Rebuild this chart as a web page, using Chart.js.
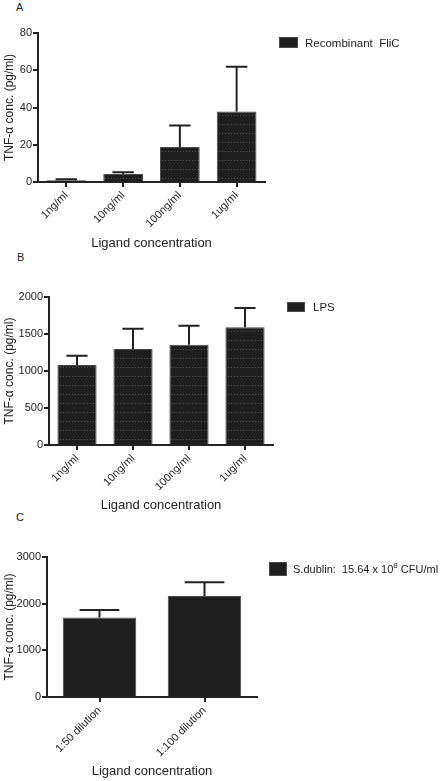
<!DOCTYPE html>
<html>
<head>
<meta charset="utf-8">
<script src="https://cdn.jsdelivr.net/npm/chart.js@4/dist/chart.umd.min.js"></script>
<style>
  body { margin: 0; background: #fff; font-family: "Liberation Sans", Arial, sans-serif; color: #222; }
  #wrap { position: relative; width: 444px; height: 781px; overflow: hidden; }
  canvas { position: absolute; left: 0; }
  .tag { position: absolute; font-size: 11px; line-height: 1; }
  .leg { position: absolute; display: flex; align-items: center; font-size: 11.5px; white-space: pre; }
  .leg i { display: inline-block; background: #1e1e1e; border: 1px solid #4a4a4a; box-sizing: border-box; }
  .leg sup { font-size: 8px; line-height: 0; }
</style>
</head>
<body>
<div id="wrap">
  <div class="tag" style="left:16px;top:2px">A</div>
  <div class="tag" style="left:17px;top:252px">B</div>
  <div class="tag" style="left:16px;top:512px">C</div>

  <canvas id="chartA" width="444" height="252" style="top:0"></canvas>
  <canvas id="chartB" width="444" height="262" style="top:252px"></canvas>
  <canvas id="chartC" width="444" height="267" style="top:514px"></canvas>

  <div class="leg" style="left:279px;top:37px;height:11px"><i style="width:19px;height:11px;margin-right:7px"></i><span>Recombinant  FliC</span></div>
  <div class="leg" style="left:287px;top:302px;height:10px"><i style="width:18px;height:10px;margin-right:8px"></i><span>LPS</span></div>
  <div class="leg" style="left:269px;top:562px;height:14px;font-size:11px"><i style="width:18px;height:14px;margin-right:6px"></i><span>S.dublin:  15.64 x 10<sup>8</sup> CFU/ml</span></div>
</div>

<script>
// panel A - recombinant FliC
const ligandCats = ['1ng/ml', '10ng/ml', '100ng/ml', '1ug/ml'];
const fliC = [1.0, 4.3, 18.8, 37.9];
const fliCErr = [0.5, 0.9, 11.6, 24.0];
const ticksA = [0, 20, 40, 60, 80];

// panel B - LPS
const lps = [1081, 1297, 1355, 1590];
const lpsErr = [126, 275, 257, 261];
const ticksB = [0, 500, 1000, 1500, 2000];

// panel C - S.dublin
const dilutionCats = ['1:50 dilution', '1:100 dilution'];
const sDublin = [1701, 2164];
const sDublinErr = [163, 293];
const ticksC = [0, 1000, 2000, 3000];

const ink = '#222';

// striped fill like the scanned bars
function stripes() {
  const c = document.createElement('canvas');
  c.width = 3; c.height = 9;
  const g = c.getContext('2d');
  g.fillStyle = '#1e1e1e';
  g.fillRect(0, 0, 3, 9);
  g.fillStyle = 'rgba(170,170,170,0.4)';
  g.fillRect(0, 7, 1, 1);
  return g.createPattern(c, 'repeat');
}

// error bars (mean + SEM, upper only)
const errorBars = {
  id: 'errorBars',
  afterDatasetsDraw(chart) {
    const { ctx, scales: { y } } = chart;
    chart.data.datasets.forEach((ds, i) => {
      chart.getDatasetMeta(i).data.forEach((bar, j) => {
        const top = y.getPixelForValue(ds.data[j] + ds.errors[j]);
        const cap = bar.width * 0.27;
        ctx.save();
        ctx.strokeStyle = ink;
        ctx.lineWidth = 2;
        ctx.beginPath();
        ctx.moveTo(bar.x, bar.y);
        ctx.lineTo(bar.x, top);
        ctx.moveTo(bar.x - cap, top);
        ctx.lineTo(bar.x + cap, top);
        ctx.stroke();
        ctx.restore();
      });
    });
  }
};

function makeChart(id, cats, vals, errs, yTicks, fill, box) {
  const max = yTicks[yTicks.length - 1];
  return new Chart(document.getElementById(id), {
    type: 'bar',
    data: {
      labels: cats,
      datasets: [{
        data: vals,
        errors: errs,
        backgroundColor: fill,
        borderColor: '#4a4a4a',
        borderWidth: 1,
        categoryPercentage: 1,
        barPercentage: 0.7
      }]
    },
    options: {
      responsive: false,
      animation: false,
      layout: { padding: { left: 0, top: box.top, right: box.right, bottom: 0 } },
      plugins: { legend: { display: false }, tooltip: { enabled: false } },
      scales: {
        x: {
          offset: true,
          grid: { display: true, offset: false, drawOnChartArea: false, drawTicks: true, tickLength: 5, lineWidth: 2, color: ink },
          border: { display: true, color: ink, width: 2 },
          ticks: { color: ink, font: { family: 'Liberation Sans', size: 11 }, minRotation: 45, maxRotation: 45, padding: 2 },
          title: { display: true, text: 'Ligand concentration', color: ink, font: { family: 'Liberation Sans', size: 13 }, padding: { top: 4, bottom: box.titlePad } },
          afterFit: (s) => { s.height = box.xh; }
        },
        y: {
          min: 0,
          max: max,
          afterBuildTicks: (s) => { s.ticks = yTicks.map(v => ({ value: v })); },
          grid: { display: true, drawOnChartArea: false, drawTicks: true, tickLength: 5, lineWidth: 2, color: ink },
          border: { display: true, color: ink, width: 2 },
          ticks: { color: ink, font: { family: 'Liberation Sans', size: 11 }, padding: 1, callback: (v) => String(v) },
          title: { display: true, text: 'TNF-α conc. (pg/ml)', color: ink, font: { family: 'Liberation Sans', size: 12 }, padding: { top: 2, bottom: 2 } },
          afterFit: (s) => { s.width = box.yw; }
        }
      }
    },
    plugins: [errorBars]
  });
}

makeChart('chartA', ligandCats, fliC, fliCErr, ticksA, stripes(), { top: 33, right: 179, yw: 38, xh: 70, titlePad: 1 });
makeChart('chartB', ligandCats, lps, lpsErr, ticksB, stripes(), { top: 45, right: 171, yw: 49, xh: 69, titlePad: 1 });
makeChart('chartC', dilutionCats, sDublin, sDublinErr, ticksC, '#1e1e1e', { top: 43, right: 187, yw: 47, xh: 84, titlePad: 1.5 });
</script>
</body>
</html>
